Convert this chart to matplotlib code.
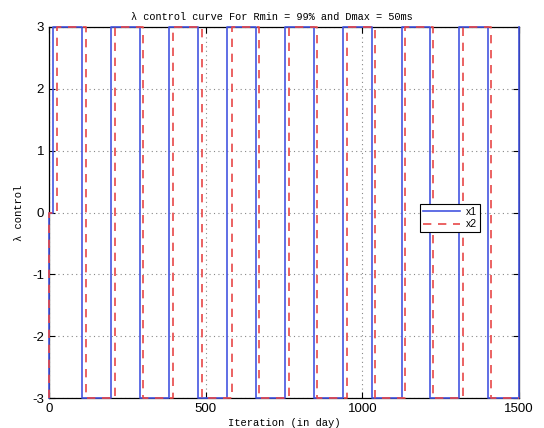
import numpy as np
import matplotlib
matplotlib.use('Agg')
import matplotlib.pyplot as plt

# switching days of the bang-bang control for each series
x1_switch_days = [12, 105, 198, 290, 384, 475, 569, 661, 754, 846, 939, 1030, 1126, 1216, 1310, 1402, 1500]
x2_switch_days = [25, 117, 210, 301, 397, 487, 583, 671, 765, 856, 952, 1041, 1135, 1227, 1320, 1411]
lambda_high = 3
lambda_low = -3


def control_path(switch_days):
    # start at -3, jump to 0 at day 0, then alternate between +3 and -3
    days = [0, 0] + list(switch_days)
    levels = [lambda_low, 0]
    level = lambda_high
    for _ in switch_days:
        levels.append(level)
        level = lambda_low if level == lambda_high else lambda_high
    return np.array(days), np.array(levels)


x1_days, x1_lambda = control_path(x1_switch_days)
x2_days, x2_lambda = control_path(x2_switch_days)
# hold the last level out to the end of the run
x2_days = np.append(x2_days, 1500)
x2_lambda = np.append(x2_lambda, x2_lambda[-1])

mono = ['Liberation Mono', 'DejaVu Sans Mono']
plt.rcParams['font.family'] = ['Liberation Sans', 'DejaVu Sans']
plt.rcParams['axes.unicode_minus'] = False

fig = plt.figure(figsize=(5.44, 4.28), dpi=100)
ax = fig.add_axes([0.090, 0.070, 0.864, 0.867])

ax.plot(x1_days, x1_lambda, drawstyle='steps-post', color='#4455e0', lw=1.2,
        label='x1', clip_on=False, zorder=3)
ax.plot(x2_days, x2_lambda, drawstyle='steps-post', color='#e84848', lw=1.2,
        linestyle=(0, (5, 4)), label='x2', clip_on=False, zorder=3)

ax.set_xlim(0, 1500)
ax.set_ylim(-3, 3)
ax.set_xticks([0, 500, 1000, 1500])
ax.set_yticks(range(-3, 4))
ax.grid(True, linestyle=(0, (1, 3)), color='#888888', lw=0.8)
ax.tick_params(direction='in', top=True, right=True, labelsize=9.5, length=4)
for spine in ax.spines.values():
    spine.set_linewidth(0.9)

ax.set_title(u'\u03bb control curve For Rmin = 99% and Dmax = 50ms',
             fontsize=7.4, family=mono, pad=5, x=0.475)
ax.set_xlabel('Iteration (in day)', fontsize=7.6, family=mono, labelpad=2)
ax.set_ylabel(u'\u03bb control', fontsize=7.6, family=mono, labelpad=6)

leg = ax.legend(loc='upper left', bbox_to_anchor=(0.789, 0.523), fontsize=7.5,
                fancybox=False, edgecolor='black', framealpha=1, borderaxespad=0,
                handlelength=3.6, borderpad=0.3, labelspacing=0.2, handletextpad=0.5)
leg.get_frame().set_linewidth(0.8)
leg.set_zorder(5)

fig.savefig('out.png', dpi=100)
